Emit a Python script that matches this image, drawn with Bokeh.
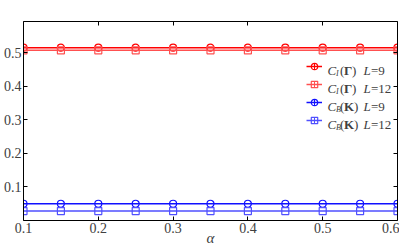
import numpy as np
from bokeh.plotting import figure
from bokeh.models import (LinearAxis, FixedTicker, Range1d, Legend, LegendItem,
                          Label, ColumnDataSource)
from bokeh.embed import file_html
from bokeh.resources import INLINE

# ---- data ----
alpha = [0.10, 0.15, 0.20, 0.25, 0.30, 0.35, 0.40, 0.45, 0.50, 0.55, 0.60]
CI_L9 = [0.516] * 11
CI_L12 = [0.508] * 11
CB_L9 = [0.050] * 11
CB_L12 = [0.028] * 11
x_ticks = [0.1, 0.2, 0.3, 0.4, 0.5, 0.6]
y_ticks = [0.1, 0.2, 0.3, 0.4, 0.5]

series = [
    (CI_L9, "#ff0000", "circle", "I", "\u0393", "=9"),
    (CI_L12, "#ff5050", "square", "I", "\u0393", "=12"),
    (CB_L9, "#1010ff", "circle", "B", "K", "=9"),
    (CB_L12, "#5050ff", "square", "B", "K", "=12"),
]

SERIF = "Liberation Serif"
TXT = "#404040"

p = figure(width=399, height=248, output_backend="svg", toolbar_location=None,
           x_range=Range1d(0.1, 0.6), y_range=Range1d(0.0, 0.594),
           x_axis_location=None, y_axis_location=None,
           min_border_left=19, min_border_right=2, min_border_top=21,
           min_border_bottom=28)
p.outline_line_color = None
p.xgrid.visible = False
p.ygrid.visible = False
p.background_fill_color = "white"


def style_axis(ax, ticks, show_labels):
    ax.ticker = FixedTicker(ticks=ticks)
    ax.axis_line_color = "black"
    ax.axis_line_width = 1
    ax.major_tick_in = 4
    ax.major_tick_out = 0
    ax.major_tick_line_color = "black"
    ax.minor_tick_line_color = None
    ax.major_label_text_font = SERIF
    if show_labels:
        ax.major_label_text_color = TXT
        ax.major_label_text_font_size = "14px"
        ax.major_label_standoff = 2
    else:
        ax.major_label_text_color = None
        ax.major_label_text_font_size = "1px"
        ax.major_label_standoff = 0


bx = LinearAxis(); style_axis(bx, x_ticks, True)
bx.axis_label = "\u03b1"
bx.axis_label_text_font = SERIF
bx.axis_label_text_font_style = "italic"
bx.axis_label_text_font_size = "15px"
bx.axis_label_text_color = TXT
bx.axis_label_standoff = -6
tx = LinearAxis(); style_axis(tx, x_ticks, False)
ly = LinearAxis(); style_axis(ly, y_ticks, True)
ry = LinearAxis(); style_axis(ry, y_ticks, False)
p.add_layout(bx, "below")
p.add_layout(tx, "above")
p.add_layout(ly, "left")
p.add_layout(ry, "right")

items = []
for vals, col, mk, sub, sym, num in series:
    src = ColumnDataSource(dict(x=alpha, y=vals))
    ln = p.line("x", "y", source=src, line_color=col, line_width=1.5)
    eb = p.scatter("x", "y", source=src, marker="cross", size=8,
                   line_color=col, line_width=1, visible=False)
    mr = p.scatter("x", "y", source=src, marker=mk, size=7,
                   line_color=col, line_width=1.2, fill_color=None)
    items.append(LegendItem(label="", renderers=[ln, eb, mr]))

legend = Legend(items=items, location=(283, 91), padding=0, margin=0,
                spacing=0, glyph_width=16, glyph_height=18, label_height=18,
                label_width=0, label_standoff=0, border_line_color=None,
                background_fill_alpha=0, inactive_fill_alpha=0,
                label_text_color=None, click_policy="none")
p.add_layout(legend)

# legend texts (frame-relative screen units)
x0 = 304
base = [149.7, 131.7, 113.7, 95.7]
for (vals, col, mk, sub, sym, num), yb in zip(series, base):
    parts = [
        ("C", "italic", 13, x0, yb),
        (sub, "italic", 8, x0 + 8.5, yb - 3),
        ("(", "normal", 13, x0 + 12.5, yb),
        (sym, "bold", 13, x0 + 16.5, yb),
        (")", "normal", 13, x0 + 16.5 + (8.0 if sym == "\u0393" else 10.1), yb),
        ("L", "italic", 13, x0 + 36, yb),
        (num, "normal", 13, x0 + 43.5, yb),
    ]
    for t, style, fs, xx, yy in parts:
        p.add_layout(Label(x=xx, y=yy, x_units="screen", y_units="screen",
                           text=t, text_font=SERIF, text_font_style=style,
                           text_font_size=f"{fs}px", text_color=TXT,
                           text_baseline="alphabetic", text_align="left"))

open("out.html", "w").write(file_html(p, INLINE))
